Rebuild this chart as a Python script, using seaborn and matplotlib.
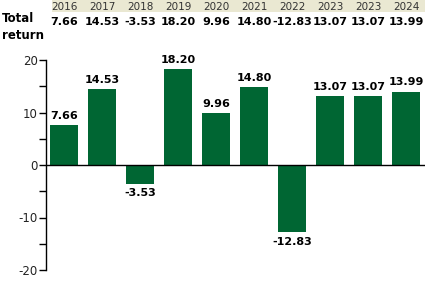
import numpy as np
import pandas as pd
import matplotlib
matplotlib.use("Agg")
import matplotlib.pyplot as plt
import seaborn as sns
from matplotlib.ticker import MultipleLocator
import matplotlib.transforms as mtransforms

years = ["2016", "2017", "2018", "2019", "2020", "2021", "2022", "2023", "2023", "2024"]
returns = [7.66, 14.53, -3.53, 18.20, 9.96, 14.80, -12.83, 13.07, 13.07, 13.99]
row_label = "Total\nreturn"

sns.set_theme(style="white")
plt.rcParams['font.family'] = ['DejaVu Sans']
plt.rcParams['axes.unicode_minus'] = False

df = pd.DataFrame({"pos": np.arange(len(years)), "ret": returns})

fig = plt.figure(figsize=(4.25, 2.88), dpi=100)
ax = fig.add_axes([46/425, 1-270/288, (425-46)/425, 210/288])

sns.barplot(data=df, x="pos", y="ret", color="#006633", saturation=1,
            width=0.76, ax=ax, edgecolor="none")

ax.set_xlim(-0.474, 9.5)
ax.set_ylim(-20, 20)
ax.set_xlabel("")
ax.set_ylabel("")
ax.set_xticks([])
ax.yaxis.set_major_locator(MultipleLocator(10))
ax.yaxis.set_minor_locator(MultipleLocator(5))
ax.tick_params(axis="y", which="both", direction="out", length=5, width=1,
               colors="black", left=True, labelsize=8.5, pad=1)
ax.tick_params(axis="y", which="major", labelcolor="#222222")
for s in ["top", "right", "bottom"]:
    ax.spines[s].set_visible(False)
ax.spines["left"].set_color("black")
ax.spines["left"].set_linewidth(1)
ax.axhline(0, color="black", lw=1, zorder=3)

for i, v in enumerate(returns):
    if v >= 0:
        ax.text(i, v + 0.8, f"{v:.2f}", ha="center", va="bottom",
                fontsize=8, fontweight="bold", color="black")
    else:
        ax.text(i, v - 0.8, f"{v:.2f}", ha="center", va="top",
                fontsize=8, fontweight="bold", color="black")

# header table
trans = mtransforms.blended_transform_factory(ax.transData, fig.transFigure)
band_left = 52/425
fig.patches.append(plt.Rectangle((band_left, 1-12/288), 1-band_left, 12/288,
                                 transform=fig.transFigure, facecolor="#EAE8D2",
                                 edgecolor="none", zorder=0))
for i, y in enumerate(years):
    fig.text(i, 1-6.5/288, y, transform=trans, ha="center", va="center",
             fontsize=7.5, color="#333333")
    fig.text(i, 1-22/288, f"{returns[i]:.2f}", transform=trans, ha="center",
             va="center", fontsize=8, fontweight="bold", color="black")
fig.text(2/425, 1-27/288, row_label, ha="left", va="center", fontsize=8.5,
         fontweight="bold", color="black", linespacing=1.45)

fig.savefig("out.png", dpi=100)
